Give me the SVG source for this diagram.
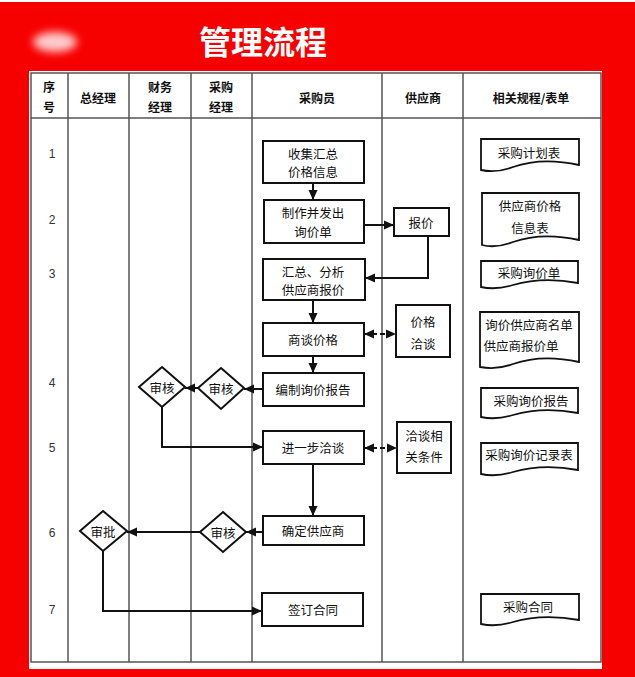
<svg xmlns="http://www.w3.org/2000/svg" width="635" height="677" viewBox="0 0 635 677">
<style>
.t{font-family:"Noto Sans CJK SC","Noto Sans",sans-serif;font-size:12.5px;fill:#111;text-anchor:middle;dominant-baseline:central}
.h{font-weight:bold;font-size:12px}
.n{font-family:"Liberation Sans",sans-serif;font-size:12px;fill:#333;text-anchor:middle;dominant-baseline:central}
.box{fill:#fff;stroke:#111;stroke-width:2}
.doc{fill:#fff;stroke:#111;stroke-width:1.8}
.grid{stroke:#555;stroke-width:1.5;fill:none}
.c{stroke:#111;stroke-width:2;fill:none}
.d{stroke:#111;stroke-width:2;fill:none;stroke-dasharray:5,3}
</style>
<defs>
<marker id="a" markerUnits="userSpaceOnUse" markerWidth="10" markerHeight="10" viewBox="0 0 10 10" refX="10" refY="5" orient="auto-start-reverse">
<path d="M0,0.5 L10,5 L0,9.5 Z" fill="#111"/>
</marker>
<filter id="bl" x="-50%" y="-50%" width="200%" height="200%"><feGaussianBlur stdDeviation="4"/></filter>
</defs>
<rect x="0" y="0" width="635" height="677" fill="#fff"/>
<rect x="0" y="2" width="635" height="675" fill="#f70000"/>
<ellipse cx="55" cy="42" rx="22" ry="10" fill="#fff" opacity="0.8" filter="url(#bl)"/>
<text x="263" y="40" style="font-family:'Noto Sans CJK SC',sans-serif;font-size:32px;font-weight:bold;fill:#fff;text-anchor:middle;dominant-baseline:central">管理流程</text>
<rect x="29" y="71" width="573" height="598" fill="#fff"/>
<g id="grid">
<rect class="grid" x="31" y="73" width="570" height="589"/>
<line class="grid" x1="31" y1="118" x2="601" y2="118"/>
<line class="grid" x1="68" y1="73" x2="68" y2="662"/>
<line class="grid" x1="129" y1="73" x2="129" y2="662"/>
<line class="grid" x1="191" y1="73" x2="191" y2="662"/>
<line class="grid" x1="252" y1="73" x2="252" y2="662"/>
<line class="grid" x1="382" y1="73" x2="382" y2="662"/>
<line class="grid" x1="463" y1="73" x2="463" y2="662"/>
</g>
<g id="header">
<text class="t h" x="49" y="86">序</text><text class="t h" x="49" y="106">号</text>
<text class="t h" x="98" y="97">总经理</text>
<text class="t h" x="160" y="86">财务</text><text class="t h" x="160" y="106">经理</text>
<text class="t h" x="221" y="86">采购</text><text class="t h" x="221" y="106">经理</text>
<text class="t h" x="317" y="97">采购员</text>
<text class="t h" x="423" y="97">供应商</text>
<text class="t h" x="531" y="97">相关规程/表单</text>
</g>
<g id="rows">
<text class="n" x="52" y="154">1</text>
<text class="n" x="52" y="220">2</text>
<text class="n" x="52" y="274">3</text>
<text class="n" x="52" y="383">4</text>
<text class="n" x="52" y="448">5</text>
<text class="n" x="52" y="533">6</text>
<text class="n" x="52" y="610">7</text>
</g>
<g id="connectors">
<line class="c" x1="313" y1="183" x2="313" y2="200" marker-end="url(#a)"/>
<line class="c" x1="364" y1="225" x2="394" y2="225" marker-end="url(#a)"/>
<polyline class="c" points="428,236 428,278 365,278" marker-end="url(#a)"/>
<line class="c" x1="313" y1="300" x2="313" y2="323" marker-end="url(#a)"/>
<line class="d" x1="364" y1="334" x2="396" y2="334" marker-start="url(#a)" marker-end="url(#a)"/>
<line class="c" x1="313" y1="356" x2="313" y2="373" marker-end="url(#a)"/>
<line class="c" x1="263" y1="389" x2="244" y2="389" marker-end="url(#a)"/>
<line class="c" x1="198" y1="388" x2="185" y2="388" marker-end="url(#a)"/>
<polyline class="c" points="162,407 162,447 263,447" marker-end="url(#a)"/>
<line class="d" x1="364" y1="448" x2="397" y2="448" marker-start="url(#a)" marker-end="url(#a)"/>
<line class="c" x1="313" y1="464" x2="313" y2="516" marker-end="url(#a)"/>
<line class="c" x1="263" y1="532" x2="246" y2="532" marker-end="url(#a)"/>
<line class="c" x1="200" y1="532" x2="127" y2="532" marker-end="url(#a)"/>
<polyline class="c" points="103,551 103,611 262,611" marker-end="url(#a)"/>
</g>
<g id="n1"><rect class="box" x="263" y="141" width="101" height="42"/><text class="t" x="313" y="153">收集汇总</text><text class="t" x="313" y="171">价格信息</text></g>
<g id="n2"><rect class="box" x="264" y="200" width="100" height="43"/><text class="t" x="313" y="212">制作并发出</text><text class="t" x="313" y="231">询价单</text></g>
<g id="n3"><rect class="box" x="263" y="259" width="102" height="41"/><text class="t" x="313" y="271">汇总、分析</text><text class="t" x="313" y="289">供应商报价</text></g>
<g id="n4"><rect class="box" x="263" y="323" width="101" height="33"/><text class="t" x="313" y="339">商谈价格</text></g>
<g id="n5"><rect class="box" x="263" y="373" width="101" height="33"/><text class="t" x="313" y="389">编制询价报告</text></g>
<g id="n6"><rect class="box" x="263" y="431" width="101" height="33"/><text class="t" x="313" y="447">进一步洽谈</text></g>
<g id="n7"><rect class="box" x="263" y="516" width="101" height="29"/><text class="t" x="313" y="530">确定供应商</text></g>
<g id="n8"><rect class="box" x="262" y="593" width="101" height="33"/><text class="t" x="313" y="609">签订合同</text></g>
<g id="s1"><rect class="box" x="394" y="208" width="55" height="28"/><text class="t" x="421" y="222">报价</text></g>
<g id="s2"><rect class="box" x="396" y="305" width="54" height="52"/><text class="t" x="423" y="321">价格</text><text class="t" x="423" y="343">洽谈</text></g>
<g id="s3"><rect class="box" x="397" y="422" width="54" height="51"/><text class="t" x="424" y="435">洽谈相</text><text class="t" x="424" y="456">关条件</text></g>
<g id="m1"><polygon class="box" points="162,367 185,387 162,407 139,387"/><text class="t" x="162" y="387">审核</text></g>
<g id="m2"><polygon class="box" points="221,368 244,388 221,409 198,388"/><text class="t" x="221" y="388">审核</text></g>
<g id="m3"><polygon class="box" points="223,512 246,532 223,552 200,532"/><text class="t" x="223" y="532">审核</text></g>
<g id="m4"><polygon class="box" points="103,511 127,531 103,551 80,531"/><text class="t" x="103" y="531">审批</text></g>
<g id="d1"><path class="doc" d="M481,139 H579 V165 C552,159 530,161 513,167 C500,172 490,172 481,170 Z"/><text class="t" x="529" y="152">采购计划表</text></g>
<g id="d2"><path class="doc" d="M482,193 H579 V240 C552,234 530,236 513,242 C500,247 490,247 482,245 Z"/><text class="t" x="530" y="205">供应商价格</text><text class="t" x="530" y="227">信息表</text></g>
<g id="d3"><path class="doc" d="M481,261 H578 V283 C552,278 530,280 513,285 C500,289 490,289 481,287 Z"/><text class="t" x="529" y="272">采购询价单</text></g>
<g id="d4"><path class="doc" d="M480,312 H579 V362 C552,356 530,358 513,364 C500,369 490,369 480,367 Z"/><text class="t" x="529" y="324">询价供应商名单</text><text class="t" x="521" y="345">供应商报价单</text></g>
<g id="d5"><path class="doc" d="M481,388 H578 V413 C552,408 530,410 513,415 C500,419 490,419 481,417 Z"/><text class="t" x="531" y="400">采购询价报告</text></g>
<g id="d6"><path class="doc" d="M481,443 H578 V470 C552,465 530,467 513,472 C500,476 490,476 481,474 Z"/><text class="t" x="529" y="454">采购询价记录表</text></g>
<g id="d7"><path class="doc" d="M481,594 H579 V620 C552,615 530,617 513,622 C500,626 490,626 481,624 Z"/><text class="t" x="528" y="606">采购合同</text></g>
</svg>
